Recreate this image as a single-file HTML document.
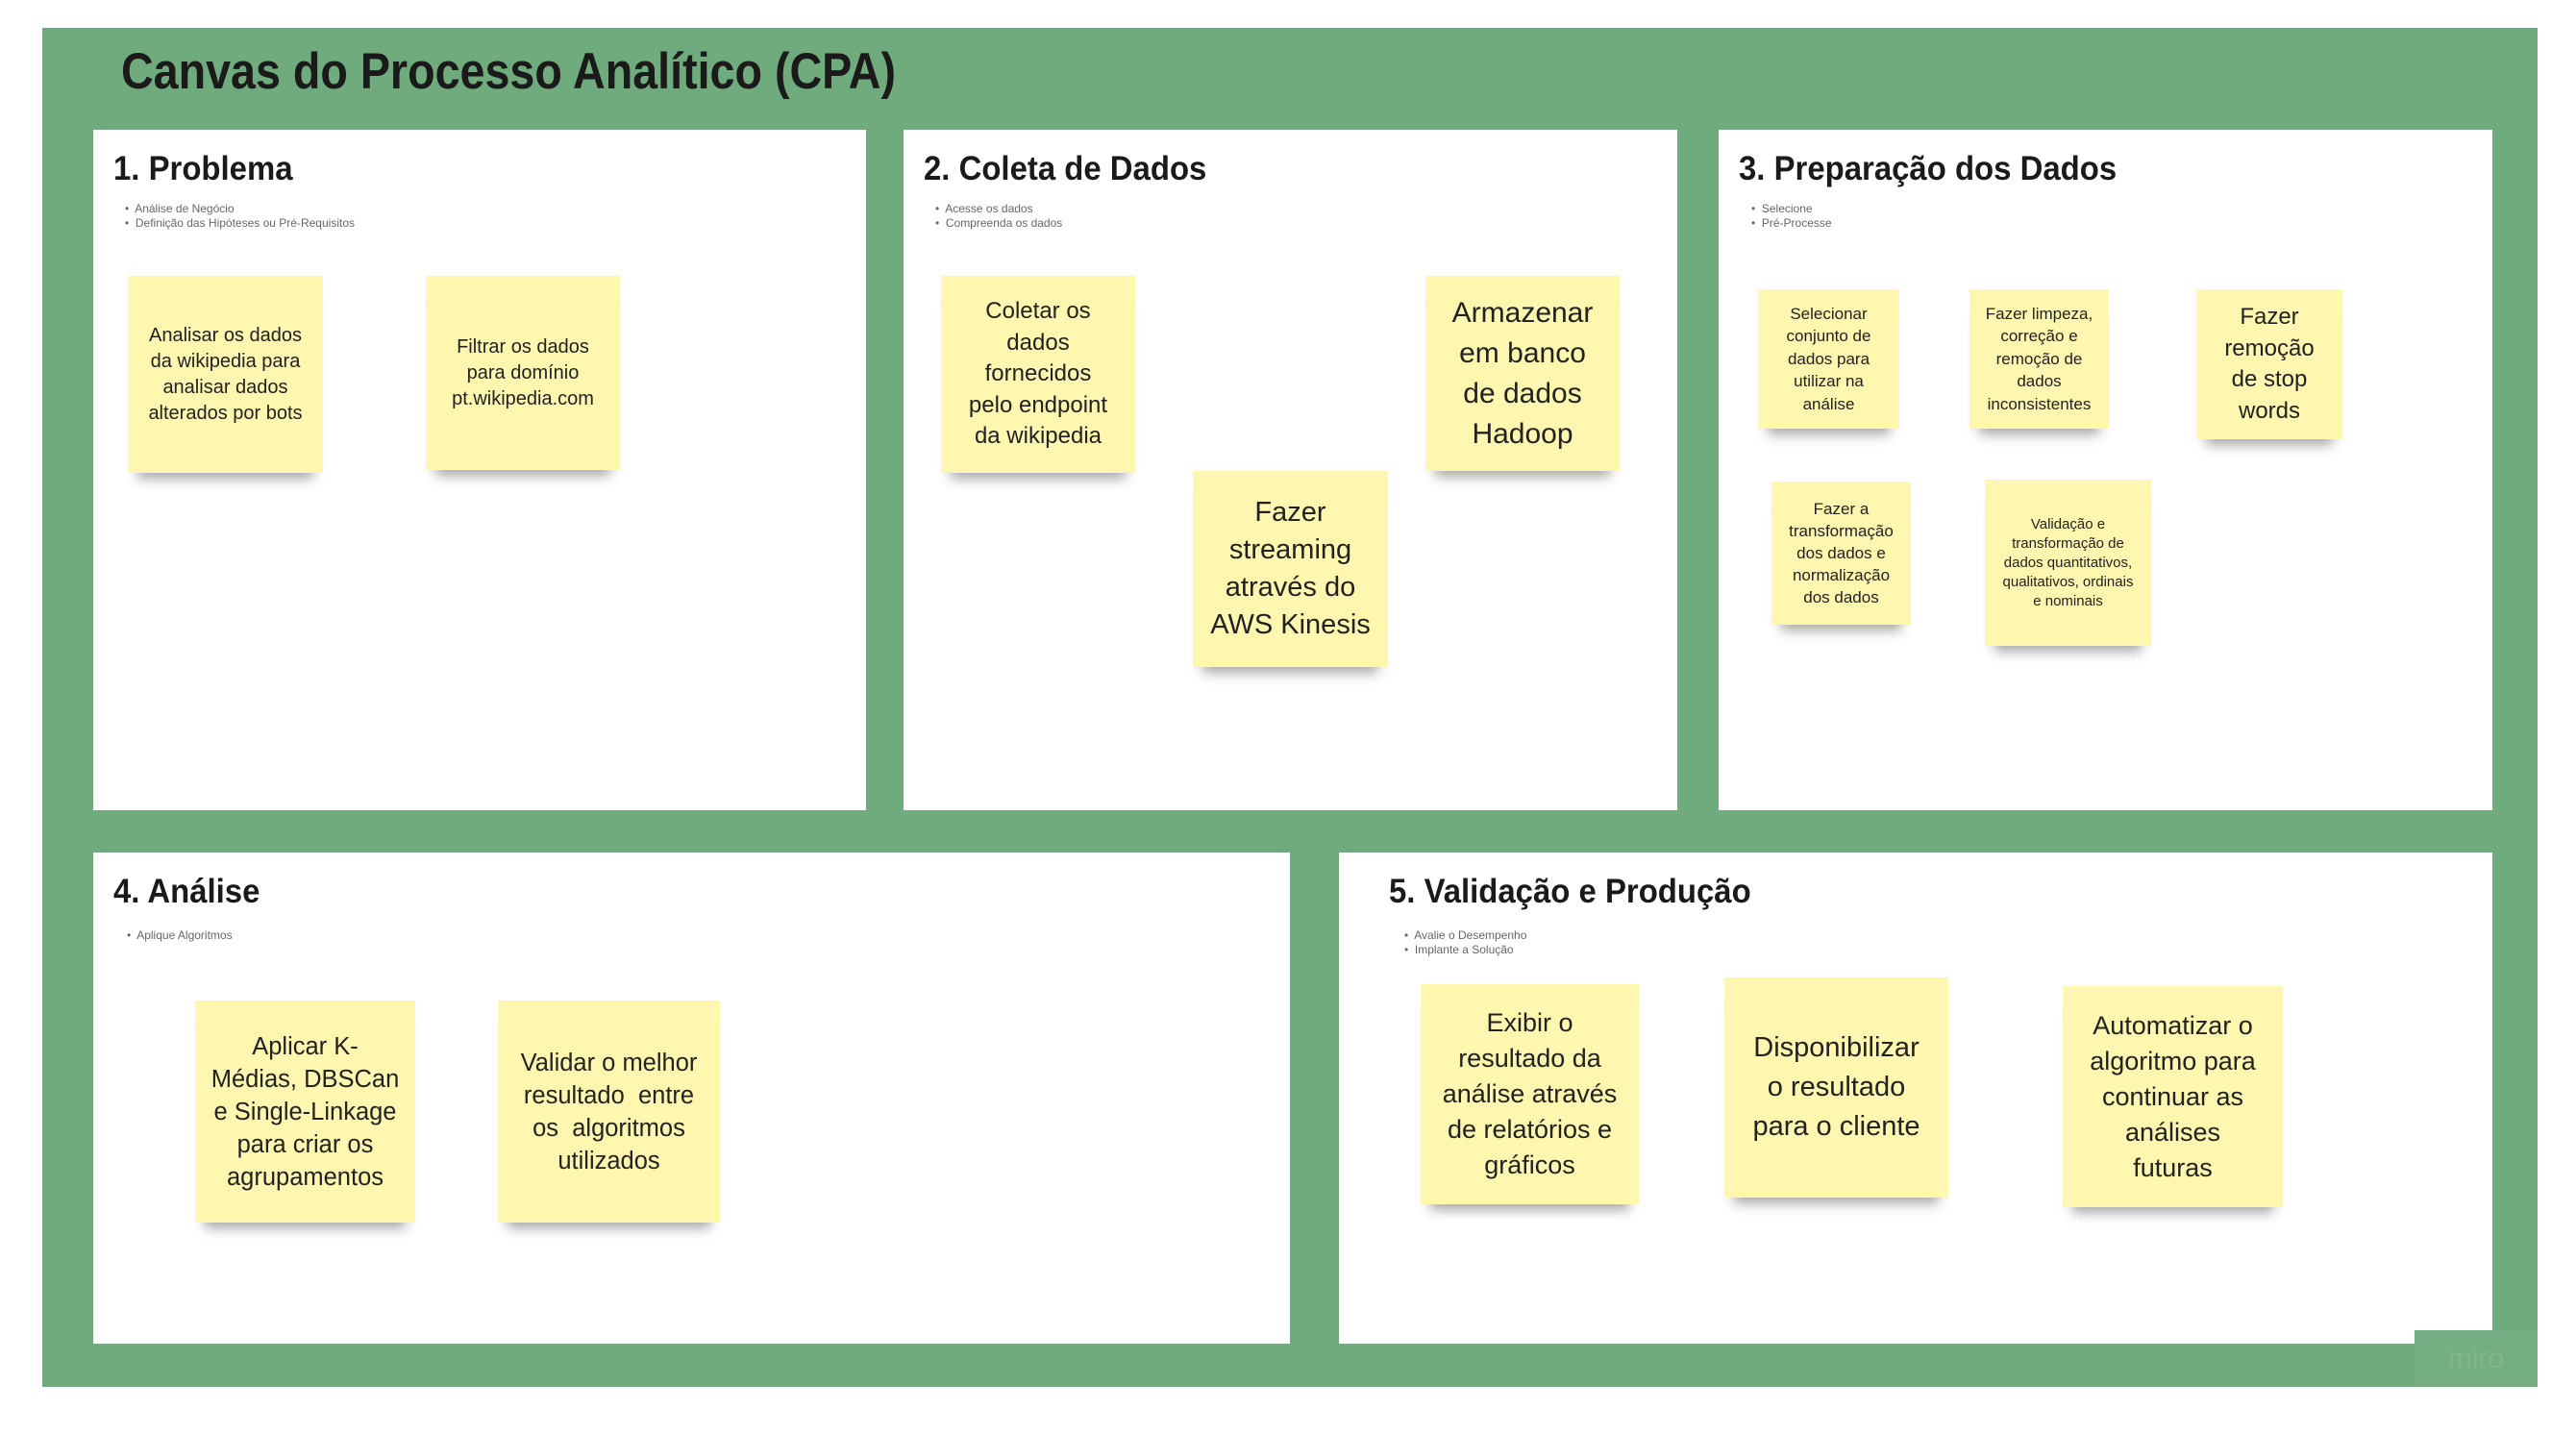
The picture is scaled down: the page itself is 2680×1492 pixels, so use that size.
<!DOCTYPE html>
<html><head><meta charset="utf-8">
<style>
body{margin:0;width:2680px;height:1492px;background:#fff;position:relative;overflow:hidden;font-family:"Liberation Sans",sans-serif}
.g{position:absolute;left:44px;top:29px;width:2596px;height:1414px;background:#70ab7d}
.t{position:absolute;left:126px;top:44px;font-size:53px;font-weight:bold;color:#1a1a1a;transform:scaleX(0.88);transform-origin:left top;white-space:nowrap}
.p{position:absolute;background:#fff}
.h{position:absolute;font-size:35px;font-weight:bold;color:#1a1a1a;transform:scaleX(0.94);transform-origin:left top;white-space:nowrap}
.b{position:absolute;font-size:12px;color:#666;line-height:15px;white-space:nowrap}
.s{position:absolute;background:#fff6b0;display:flex;align-items:center;justify-content:center;text-align:center;color:#222;box-shadow:0 16px 12px -10px rgba(0,0,0,.35)}
</style></head><body>
<div class="g"></div>
<div class="t">Canvas do Processo Analítico (CPA)</div>

<div class="p" style="left:97px;top:135px;width:804px;height:708px"></div>
<div class="p" style="left:940px;top:135px;width:805px;height:708px"></div>
<div class="p" style="left:1788px;top:135px;width:805px;height:708px"></div>
<div class="p" style="left:97px;top:887px;width:1245px;height:511px"></div>
<div class="p" style="left:1393px;top:887px;width:1200px;height:511px"></div>

<div class="h" style="left:118px;top:156px">1. Problema</div>
<div class="b" style="left:130px;top:210px">•&nbsp; Análise de Negócio<br>•&nbsp; Definição das Hipóteses ou Pré-Requisitos</div>
<div class="h" style="left:961px;top:156px">2. Coleta de Dados</div>
<div class="b" style="left:973px;top:210px">•&nbsp; Acesse os dados<br>•&nbsp; Compreenda os dados</div>
<div class="h" style="left:1809px;top:156px">3. Preparação dos Dados</div>
<div class="b" style="left:1822px;top:210px">•&nbsp; Selecione<br>•&nbsp; Pré-Processe</div>
<div class="h" style="left:118px;top:908px">4. Análise</div>
<div class="b" style="left:132px;top:966px">•&nbsp; Aplique Algoritmos</div>
<div class="h" style="left:1445px;top:908px">5. Validação e Produção</div>
<div class="b" style="left:1461px;top:966px">•&nbsp; Avalie o Desempenho<br>•&nbsp; Implante a Solução</div>

<div class="s" style="left:133px;top:287px;width:203px;height:205px;font-size:20px;line-height:27px">Analisar os dados<br>da wikipedia para<br>analisar dados<br>alterados por bots</div>
<div class="s" style="left:443px;top:287px;width:202px;height:202px;font-size:20px;line-height:27px">Filtrar os dados<br>para domínio<br>pt.wikipedia.com</div>

<div class="s" style="left:979px;top:287px;width:202px;height:205px;font-size:24px;line-height:32.5px">Coletar os<br>dados<br>fornecidos<br>pelo endpoint<br>da wikipedia</div>
<div class="s" style="left:1483px;top:287px;width:202px;height:203px;font-size:30px;line-height:42px">Armazenar<br>em banco<br>de dados<br>Hadoop</div>
<div class="s" style="left:1241px;top:490px;width:203px;height:204px;font-size:29px;line-height:39px">Fazer<br>streaming<br>através do<br>AWS Kinesis</div>

<div class="s" style="left:1829px;top:301px;width:147px;height:145px;font-size:17px;line-height:23.4px">Selecionar<br>conjunto de<br>dados para<br>utilizar na<br>análise</div>
<div class="s" style="left:2049px;top:301px;width:145px;height:145px;font-size:17px;line-height:23.4px">Fazer limpeza,<br>correção e<br>remoção de<br>dados<br>inconsistentes</div>
<div class="s" style="left:2285px;top:301px;width:152px;height:156px;font-size:24px;line-height:32.5px">Fazer<br>remoção<br>de stop<br>words</div>
<div class="s" style="left:1843px;top:501px;width:145px;height:149px;font-size:17px;line-height:23px">Fazer a<br>transformação<br>dos dados e<br>normalização<br>dos dados</div>
<div class="s" style="left:2065px;top:499px;width:173px;height:173px;font-size:15px;line-height:20px">Validação e<br>transformação de<br>dados quantitativos,<br>qualitativos, ordinais<br>e nominais</div>

<div class="s" style="left:203px;top:1041px;width:229px;height:231px;font-size:25.5px;line-height:34px">Aplicar K-<br>Médias, DBSCan<br>e Single-Linkage<br>para criar os<br>agrupamentos</div>
<div class="s" style="left:518px;top:1041px;width:231px;height:231px;font-size:25.5px;line-height:34px">Validar o melhor<br>resultado&nbsp; entre<br>os&nbsp; algoritmos<br>utilizados</div>

<div class="s" style="left:1478px;top:1024px;width:227px;height:229px;font-size:27px;line-height:37px">Exibir o<br>resultado da<br>análise através<br>de relatórios e<br>gráficos</div>
<div class="s" style="left:1794px;top:1017px;width:233px;height:229px;font-size:29px;line-height:41px">Disponibilizar<br>o resultado<br>para o cliente</div>
<div class="s" style="left:2146px;top:1026px;width:229px;height:230px;font-size:27px;line-height:37px">Automatizar o<br>algoritmo para<br>continuar as<br>análises<br>futuras</div>

<div style="position:absolute;left:2512px;top:1384px;width:128px;height:59px;background:#76ae83;color:#82b68e;font-size:30px;display:flex;align-items:center;justify-content:center">miro</div>
</body></html>
